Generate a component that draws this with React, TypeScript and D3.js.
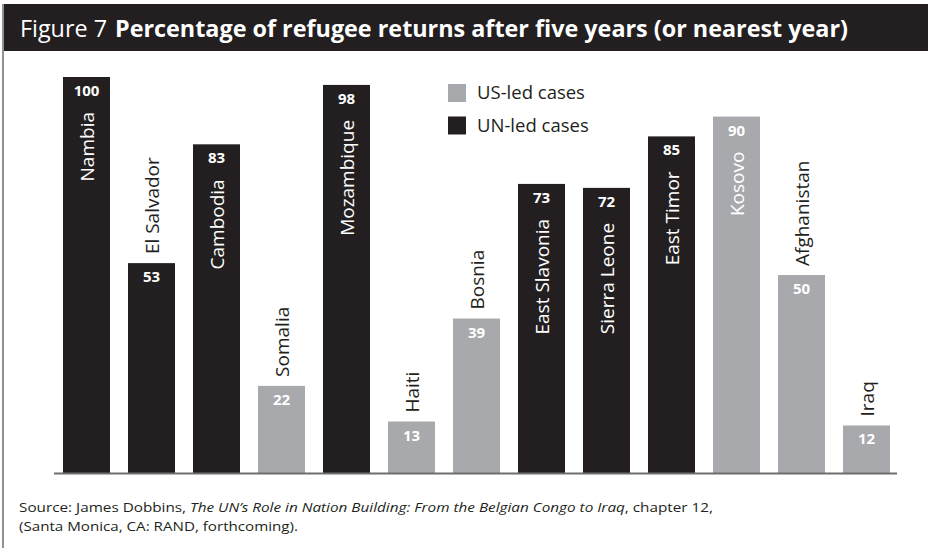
import React from "react";
import * as d3 from "d3";

const categories = [
  "Nambia", "El Salvador", "Cambodia", "Somalia", "Mozambique", "Haiti", "Bosnia",
  "East Slavonia", "Sierra Leone", "East Timor", "Kosovo", "Afghanistan", "Iraq",
];
const values = [100, 53, 83, 22, 98, 13, 39, 73, 72, 85, 90, 50, 12];
const leaders = ["UN", "UN", "UN", "US", "UN", "US", "US", "UN", "UN", "UN", "US", "US", "US"];
const legendItems = [
  { key: "US", label: "US-led cases" },
  { key: "UN", label: "UN-led cases" },
];

const W = 928;
const H = 548;
const DARK = "#231f20";
const GRAY = "#a7a9ac";
const FONT = "'Open Sans', 'Noto Sans', sans-serif";

export default function App() {
  const x = d3.scaleBand<string>().domain(categories).range([54, 899]).paddingInner(0.277).paddingOuter(0.1385);
  const y = d3.scaleLinear().domain([0, 100]).range([473, 77]);
  const color = d3.scaleOrdinal<string, string>().domain(["US", "UN"]).range([GRAY, DARK]);
  const bw = x.bandwidth();

  return (
    <svg width={W} height={H} style={{ position: "absolute", left: 0, top: 0, background: "#fff" }} fontFamily={FONT}>
      <rect x={0} y={0} width={W} height={H} fill="#fff" />
      {/* title bar */}
      <rect x={4} y={4} width={W - 4} height={47} fill={DARK} />
      <text x={20} y={37} fill="#fff" fontSize={24} textLength={87} lengthAdjust="spacingAndGlyphs">
        Figure 7
      </text>
      <text x={115} y={37} fill="#fff" fontSize={24} fontWeight="bold" textLength={733} lengthAdjust="spacingAndGlyphs">
        Percentage of refugee returns after five years (or nearest year)
      </text>
      {/* frame line */}
      <line x1={3} x2={3} y1={4} y2={H} stroke="#6d6e71" strokeWidth={1.5} />

      {/* bars */}
      {categories.map((c, i) => {
        const x0 = x(c)!;
        const top = y(values[i]);
        const cx = x0 + bw / 2;
        const inside = values[i] >= 70;
        return (
          <g key={c}>
            <rect x={x0} y={top} width={bw} height={y(0) - top} fill={color(leaders[i])} />
            <text x={cx} y={top + 19} textAnchor="middle" fill="#fff" fontWeight="bold" fontSize={15}>
              {values[i]}
            </text>
            <text
              transform={`translate(${cx + 7},${inside ? top + 35 : top - 9}) rotate(-90)`}
              textAnchor={inside ? "end" : "start"}
              fill={inside ? "#fff" : DARK}
              fontSize={19}
            >
              {c}
            </text>
          </g>
        );
      })}

      {/* baseline */}
      <line x1={54} x2={897} y1={y(0) + 0.5} y2={y(0) + 0.5} stroke="#6d6e71" strokeWidth={2} />

      {/* legend */}
      {legendItems.map((d, i) => (
        <g key={d.key} transform={`translate(448,${84 + i * 32.5})`}>
          <rect x={0} y={0} width={18} height={18} fill={color(d.key)} />
          <text x={29} y={15} fontSize={18.5} fill={DARK}>{d.label}</text>
        </g>
      ))}

      {/* source */}
      <text x={19} y={512} fontSize={13} fill={DARK} textLength={694} lengthAdjust="spacingAndGlyphs">
        <tspan>Source: James Dobbins, </tspan>
        <tspan fontStyle="italic">The UN’s Role in Nation Building: From the Belgian Congo to Iraq</tspan>
        <tspan>, chapter 12,</tspan>
      </text>
      <text x={19} y={531} fontSize={13} fill={DARK} textLength={279} lengthAdjust="spacingAndGlyphs">
        (Santa Monica, CA: RAND, forthcoming).
      </text>
    </svg>
  );
}
